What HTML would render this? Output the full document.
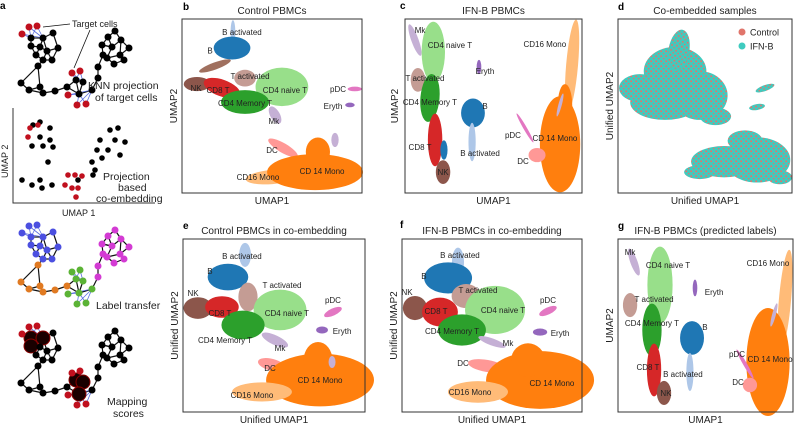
<!DOCTYPE html>
<html><head><meta charset="utf-8">
<style>
html,body{margin:0;padding:0;background:#fff;}
svg{display:block;font-family:"Liberation Sans",Arial,sans-serif;}
.lbl{font-size:8px;fill:#222;}
.ttl{font-size:10px;fill:#222;text-anchor:middle;}
.ax{font-size:10px;fill:#222;text-anchor:middle;}
.pl{font-size:10px;font-weight:bold;fill:#000;}
.at{font-size:10px;fill:#222;}
</style></head>
<body>
<svg id="fig" width="800" height="423" viewBox="0 0 800 423">
<defs>
<pattern id="mix" width="5" height="5" patternUnits="userSpaceOnUse">
<rect width="5" height="5" fill="#3fcbbf"/>
<circle cx="1.2" cy="1.2" r="1" fill="#e0756b"/>
<circle cx="3.7" cy="3.6" r="0.8" fill="#e0756b"/>
</pattern>
</defs>
<text class="pl" x="0" y="9">a</text>
<text class="pl" x="183" y="10">b</text>
<text class="pl" x="400" y="9">c</text>
<text class="pl" x="618" y="10">d</text>
<text class="pl" x="183" y="229">e</text>
<text class="pl" x="400" y="228">f</text>
<text class="pl" x="618" y="229">g</text>
<g id="schem"></g>
<g id="plots"></g>
</svg>
<script>
const NS="http://www.w3.org/2000/svg";
function mk(tag,attrs,parent){const e=document.createElementNS(NS,tag);for(const k in attrs)e.setAttribute(k,attrs[k]);if(parent)parent.appendChild(e);return e;}
const COL={"B activated":"#aec7e8","B":"#1f77b4","T activated":"#c49c94","NK":"#8c564b","CD8 T":"#d62728","CD4 naive T":"#98df8a","CD4 Memory T":"#2ca02c","Mk":"#c5b0d5","pDC":"#e377c2","Eryth":"#9467bd","DC":"#ff9896","CD 14 Mono":"#ff7f0e","CD16 Mono":"#ffbb78","T dash":"#a0705f","mix":"url(#mix)"};

const bClusters=[["B activated",28.3,92.5,1.1,5.7,0],["B",27.8,83.3,8.5,5.5,0],["T dash",18.3,73,7.8,1.7,-20],["T activated",35,66,5,4,0],["NK",8.3,62.6,6.1,3.4,0],["CD8 T",22.2,60.3,8.9,4,20],["CD4 naive T",55.5,61,12.2,9.2,0],["CD4 Memory T",35,52.3,11.1,5.7,0],["Mk",51.7,44.8,2.2,4.6,-30],["pDC",96,59.8,3.3,1.1,0],["Eryth",93.3,50.6,2.2,1.1,0],["DC",56.1,25.9,7.8,2.3,30],["CD16 Mono",50,9.2,12.2,3.4,-5],["CD 14 Mono",73.9,12,22.2,8.6,0],["CD 14 Mono",75.5,23.6,5.6,6.9,0],["Mk",85,30.5,1.7,3.4,0]];
const bLabels=[["B activated",33.3,92.5],["B",15.6,82],["T activated",37.8,67.2],["NK",7.8,60.3],["CD8 T",20,59.2],["CD4 naive T",57.2,59.2],["CD4 Memory T",35,51.7],["Mk",51,41.4],["pDC",86.7,59.8],["Eryth",83.9,50],["DC",50,24.7],["CD16 Mono",42.2,9.2],["CD 14 Mono",77.8,12.6]];

const cClusters=[["Mk",5.6,87.9,1.7,8,-20],["CD4 naive T",16,81,5.5,14.5,0],["T activated",7.3,65,3.4,5.7,0],["CD4 Memory T",14.1,54.6,4.5,11.5,5],["CD8 T",17,30.5,3.4,12.6,0],["NK",21.5,12,3.4,5.7,0],["B",22,24.7,1.7,4.6,0],["B",38.4,46,5.6,6.9,0],["B activated",37.9,29.3,1.7,9.2,0],["Eryth",41.8,72.4,1.1,3.4,0],["CD16 Mono",94.4,73.6,2.8,21.8,5],["CD 14 Mono",87.6,28,9.5,23,0],["CD 14 Mono",90.4,50.6,3.4,10,0],["pDC",67.8,37.4,0.8,8,-30],["DC",74.6,21.8,4,3.4,0],["Mk",87.6,50.6,0.8,5.7,15]];
const cLabels=[["Mk",8.5,93.7],["CD4 naive T",25.4,85],["T activated",11.3,66],["CD4 Memory T",14.1,52.3],["CD8 T",8.5,26.4],["NK",21.5,12],["B",45.2,50],["B activated",42.4,23],["Eryth",45.2,70],["CD16 Mono",79,85.6],["CD 14 Mono",84.7,31.6],["pDC",61,33.3],["DC",66.7,18.4]];

const dClusters=[["mix",12.6,60.3,12,8,0],["mix",32.8,70,18,14,0],["mix",27,52,20,10,0],["mix",47,56,16,14,0],["mix",56,44,9,5,0],["mix",35,82,6,12,10],["mix",80,19,19,13,0],["mix",61,18,19,9,0],["mix",47,12,9,4,0],["mix",73,30,10,6,0],["mix",93,9,7,4,0],["mix",84.5,60.3,5.7,1.7,-20],["mix",79.9,49.4,4.6,1.7,-10]];
const dLabels=[];

const eClusters=[["B activated",34.1,90.8,2.7,5.8,0],["B",24.7,78,9.3,6.4,0],["T activated",35.7,66.5,4.4,6.9,0],["NK",8.2,60.1,6.6,5.2,0],["CD8 T",21.4,60.7,7.7,5.2,0],["CD4 naive T",53.3,59,12.1,9.8,0],["CD4 Memory T",33,50.3,9.9,6.9,0],["Mk",50.5,41.6,6.6,2.3,25],["pDC",82.4,57.8,4.4,1.7,-25],["Eryth",76.4,47.4,2.7,1.7,0],["DC",48.9,27.2,6.6,2.9,15],["CD 14 Mono",75.3,18.5,24.7,12.7,0],["CD 14 Mono",74.2,30,6.6,8.7,0],["CD16 Mono",43.4,11.6,13.7,4.6,0],["Mk",81.9,28.9,1.6,2.9,0]];
const eLabels=[["B activated",32.4,90.2],["B",14.8,81.5],["T activated",54.4,73.4],["NK",5.5,68.8],["CD8 T",20.3,57.2],["CD4 naive T",57.1,57.2],["CD4 Memory T",23.1,41.6],["Mk",53.3,37],["pDC",82.4,64.7],["Eryth",87.4,46.8],["DC",47.8,25.4],["CD 14 Mono",75.3,18.5],["CD16 Mono",37.9,9.8]];

const fClusters=[["B activated",31.1,86.7,2.8,6.9,0],["B",25.6,77.5,11.1,7.5,0],["T activated",35.6,67,6.7,5.8,0],["NK",7.2,60.1,5.6,5.8,0],["CD8 T",21.1,57.8,8.3,6.9,0],["CD4 naive T",51.7,59,13.9,11.6,0],["CD4 Memory T",33.3,47.4,11.1,7.5,0],["Mk",50,40.5,6.7,1.7,20],["pDC",81.1,58.4,4.4,1.7,-25],["Eryth",76.7,46.2,3.3,1.7,0],["DC",47.2,26.6,8.9,2.9,10],["CD 14 Mono",76.7,18.5,25,13.9,0],["CD 14 Mono",70,30,7.8,8.1,0],["CD16 Mono",42.2,11.6,13.9,5.2,0]];
const fLabels=[["B activated",32.2,90.8],["B",12.2,78.6],["T activated",42.2,70.5],["NK",2.8,69.4],["CD8 T",18.9,58.4],["CD4 naive T",56.1,59],["CD4 Memory T",27.8,46.8],["Mk",58.9,39.9],["pDC",81.1,64.7],["Eryth",87.8,45.7],["DC",33.9,28.3],["CD 14 Mono",83.3,16.8],["CD16 Mono",37.8,11.6]];

const gClusters=[["Mk",9.1,86.7,1.7,6.9,-20],["CD4 naive T",24,73.4,6,18.5,0],["T activated",6.9,61.8,3.4,5.8,0],["CD4 Memory T",19.4,47.4,4.6,12.7,0],["CD8 T",20.6,24.3,3.4,12.7,0],["NK",26.3,11,3.4,5.8,0],["B",42.3,42.8,5.7,8.1,0],["B activated",41.1,23.1,1.7,9.2,0],["Eryth",44,71.7,1.1,4,0],["CD16 Mono",95.4,64.7,2.9,24.3,5],["CD 14 Mono",85.7,28.9,10.3,26,0],["pDC",72.6,27.7,0.9,8.1,-30],["DC",75.4,15.6,3.4,3.5,0],["Mk",89.1,56.1,0.9,5.8,15]];
const gLabels=[["Mk",6.9,92.5],["CD4 naive T",28.6,85],["T activated",20.6,65.3],["CD4 Memory T",19.4,51.4],["CD8 T",17.1,26],["NK",27.4,11],["B",49.7,49.1],["B activated",37.1,22],["Eryth",54.9,69.4],["CD16 Mono",85.7,86.1],["CD 14 Mono",86.9,30.6],["pDC",68,33.5],["DC",68.6,17.3]];

const panels=[
 {id:"b",box:[182,19,180,174],title:"Control PBMCs",xl:"UMAP1",yl:"UMAP2",cl:bClusters,lb:bLabels,k:1.2},
 {id:"c",box:[405,19,177,174],title:"IFN-B PBMCs",xl:"UMAP1",yl:null,cl:cClusters,lb:cLabels,k:1.2},
 {id:"d",box:[618,19,174,174],title:"Co-embedded samples",xl:"Unified UMAP1",yl:"Unified UMAP2",cl:dClusters,lb:dLabels,k:1},
 {id:"e",box:[183,239,182,173],title:"Control PBMCs in co-embedding",xl:"Unified UMAP1",yl:"Unified UMAP2",cl:eClusters,lb:eLabels,k:1.2},
 {id:"f",box:[402,239,180,173],title:"IFN-B PBMCs in co-embedding",xl:"Unified UMAP1",yl:"Unified UMAP2",cl:fClusters,lb:fLabels,k:1.2},
 {id:"g",box:[618,239,175,173],title:"IFN-B PBMCs (predicted labels)",xl:"UMAP1",yl:"UMAP2",cl:gClusters,lb:gLabels,k:1.2}
];
const root=document.getElementById("plots");
panels.forEach(p=>{
 const [L,T,W,H]=p.box;
 const sx=u=>L+u*W/100, sy=v=>T+H-v*H/100, sw=u=>u*W/100*p.k, sh=v=>v*H/100*p.k;
 const g=mk("g",{},root);
 
 
 const t=mk("text",{class:"ttl",x:L+W/2,y:T-5},g);t.textContent=p.title;
 
 
 p.cl.forEach(c=>{
  const cx=sx(c[1]),cy=sy(c[2]);
  const e=mk("ellipse",{cx:cx,cy:cy,rx:sw(c[3]),ry:sh(c[4]),fill:COL[c[0]],transform:`rotate(${c[5]} ${cx} ${cy})`},g);
  
  
 });
 p.lb.forEach(l=>{
  const te=mk("text",{class:"lbl",x:sx(l[1]),y:sy(l[2])+3,"text-anchor":"middle"},g);te.textContent=l[0];
  
  
 });
 const r=mk("rect",{x:L,y:T,width:W,height:H,fill:"none",stroke:"#333","stroke-width":1},g);
 
 
 const xa=mk("text",{class:"ax",x:L+W/2,y:T+H+11},g);xa.textContent=p.xl;
 
 
 if(p.yl){const ya=mk("text",{class:"ax",x:L-5,y:T+H/2,transform:`rotate(-90 ${L-5} ${T+H/2})`},g);ya.textContent=p.yl;
 
 }
});
const legendNames=["Control","IFN-B"];
const legendCols=["#e0756b","#3fcbbf"];
legendNames.forEach((n,i)=>{
 const lg=mk("g",{},root);
 
 
 mk("circle",{cx:742,cy:32+i*14,r:3.5,fill:legendCols[i]},lg);
 const tx=mk("text",{class:"lbl",x:750,y:35.5+i*14,style:"font-size:9px"},lg);tx.textContent=n;
});
(function(){const ya=mk("text",{class:"ax",x:398,y:106,transform:"rotate(-90 398 106)"},root);ya.textContent="UMAP2";

})();

const nodes=[[31,38],[43,38],[53,33],[31,46],[40,47],[47,51],[36,55],[52,60],[58,48],[43,60],[38,66],[21,83],[29,90],[40,87],[43,93],[55,91],[67,87],[76,80],[83,82],[79,94],[92,90],[98,78],[98,67],[103,55],[102,45],[108,37],[115,31],[121,40],[129,48],[120,55],[112,47],[124,60],[114,64],[107,58]];
const edges=[[0,1],[1,2],[0,3],[3,4],[4,1],[4,5],[1,5],[2,8],[5,8],[3,6],[6,4],[6,9],[9,5],[5,7],[7,8],[9,7],[9,10],[10,11],[11,12],[12,13],[13,10],[13,14],[14,15],[12,14],[15,16],[16,17],[17,18],[17,19],[18,19],[16,19],[19,20],[20,21],[21,22],[22,23],[23,24],[24,25],[25,26],[26,27],[27,28],[28,29],[29,27],[27,30],[30,25],[30,24],[29,31],[31,32],[32,33],[33,29],[33,30],[23,33],[24,30]];
const groups=[0,0,0,0,0,0,0,0,0,0,1,1,1,1,1,1,1,2,2,2,2,3,3,3,3,3,3,3,3,3,3,3,3,3];
const targets=[[22,34,0],[29,27,0],[37,26,0],[72,73,17],[80,71,17],[68,95,19],[77,105,19],[86,104,19]];
const S=document.getElementById("schem");
function graph(dy,mode){
 const g=mk("g",{transform:`translate(0 ${dy})`},S);
 edges.forEach(e=>mk("line",{x1:nodes[e[0]][0],y1:nodes[e[0]][1],x2:nodes[e[1]][0],y2:nodes[e[1]][1],stroke:"#111","stroke-width":1.2},g));
 const gc=["#4b4fe0","#e07a22","#5bb335","#d33bd3"];
 targets.forEach(t=>{const n=nodes[t[2]];mk("line",{x1:t[0],y1:t[1],x2:n[0],y2:n[1],stroke:"#5a6ee0","stroke-width":0.8},g);
  const n2=nodes[t[2]+1];mk("line",{x1:t[0],y1:t[1],x2:n2[0],y2:n2[1],stroke:"#5a6ee0","stroke-width":0.8},g);});
 nodes.forEach((n,i)=>{
  let r=3.5,f="#000";
  if(mode==="label")f=gc[groups[i]];
  if(mode==="score"&&[0,1,3,17,18,19].includes(i)){r=7;f="#1a0000";}
  mk("circle",{cx:n[0],cy:n[1],r:r,fill:f,stroke:mode==="score"&&r>5?"#8a0000":"none"},g);
 });
 targets.forEach(t=>mk("circle",{cx:t[0],cy:t[1],r:3.5,fill:mode==="label"?gc[groups[t[2]]===1?2:groups[t[2]]]:"#c0101e"},g));
 return g;
}
const g1=graph(0,"plain");
const g3=graph(199,"label");
const g4=graph(300,"score");
mk("line",{x1:70,y1:24,x2:43,y2:27,stroke:"#111","stroke-width":0.8},S);
mk("line",{x1:90,y1:30,x2:74,y2:68,stroke:"#111","stroke-width":0.8},S);
const blackDots=[[33,125],[40,122],[50,128],[40,137],[50,140],[32,146],[43,146],[53,147],[48,162],[22,180],[32,185],[40,180],[42,188],[52,185],[110,130],[118,128],[100,140],[115,140],[125,142],[97,150],[108,150],[120,155],[92,162],[102,158],[95,170],[93,175],[78,180]];
const redDots=[[30,128],[38,125],[28,137],[68,175],[75,175],[82,176],[65,185],[72,188],[78,188],[76,197]];
blackDots.forEach(d=>mk("circle",{cx:d[0],cy:d[1],r:2.8,fill:"#000"},S));
redDots.forEach(d=>mk("circle",{cx:d[0],cy:d[1],r:2.8,fill:"#c0101e"},S));
mk("polyline",{points:"13,108 13,203 155,203",fill:"none",stroke:"#333","stroke-width":1},S);
const txts=[["Target cells",72,27,9],["KNN projection",88,89,10.5],["of target cells",95,101,10.5],["Projection",103,180,10.5],["based",118,191,10.5],["co-embedding",96,202,10.5],["UMAP 1",62,216,9],["Label transfer",96,309,10.5],["Mapping",107,405,10.5],["scores",113,417,10.5]];
txts.forEach(t=>{const e=mk("text",{class:"at",x:t[1],y:t[2],style:`font-size:${t[3]}px`},S);e.textContent=t[0];});
const u2=mk("text",{class:"at",x:8,y:178,transform:"rotate(-90 8 178)",style:"font-size:9px"},S);u2.textContent="UMAP 2";
</script>
</body></html>
